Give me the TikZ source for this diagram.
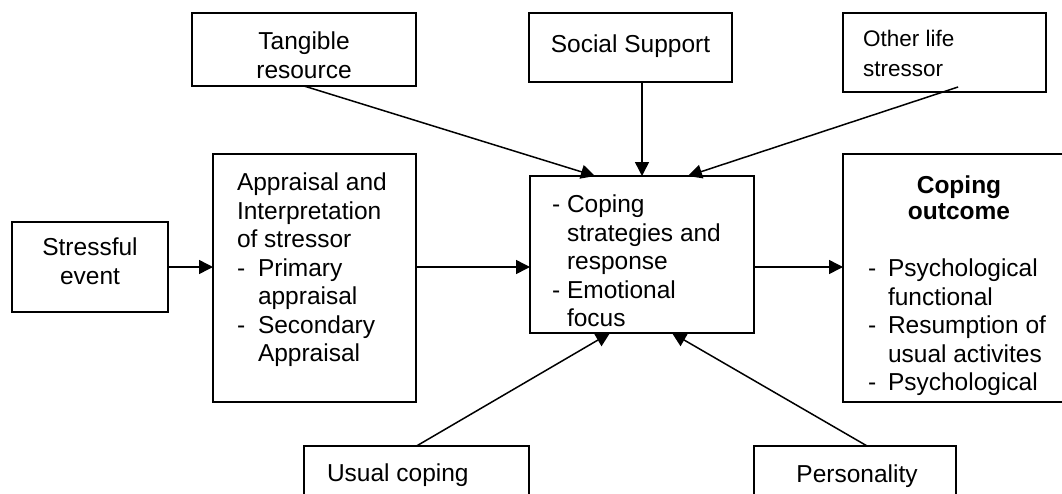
\documentclass[tikz,border=0pt]{standalone}
\usepackage{fontspec}
\setmainfont{Liberation Sans}
\usetikzlibrary{arrows.meta,calc}
\begin{document}
\begin{tikzpicture}[x=1pt,y=-1pt,
  box/.style={draw, line width=1.6pt, inner sep=0pt, outer sep=0pt},
  txt/.style={inner sep=0pt, outer sep=0pt, font=\fontsize{24.5}{28.5}\selectfont, align=left},
  ctxt/.style={txt, align=center},
  arr/.style={line width=1.5pt, -{Triangle[length=14pt,width=14pt]}}
]
\useasboundingbox (0,0) rectangle (1062,493);
\clip (0,0) rectangle (1062,493);

% boxes
\node[box, minimum width=224pt, minimum height=73pt] (tan) at (304,49.5) {};
\node[box, minimum width=203pt, minimum height=69pt] (soc) at (630.5,47.5) {};
\node[box, minimum width=203pt, minimum height=79pt] (oth) at (944.5,52.5) {};
\node[box, minimum width=156pt, minimum height=90pt] (str) at (90,267) {};
\node[box, minimum width=203pt, minimum height=248pt] (app) at (314.5,278) {};
\node[box, minimum width=224pt, minimum height=157pt] (cen) at (642,254.5) {};
\node[box, minimum width=232pt, minimum height=248pt] (out) at (959,278) {};
\node[box, minimum width=225pt, minimum height=74pt] (usu) at (416.5,483) {};
\node[box, minimum width=202pt, minimum height=74pt] (per) at (855,483) {};

% texts
\node[ctxt, anchor=north] (tant) at (304,30) {\strut Tangible\\resource};
\node[txt, anchor=base] (soct) at (630.5,52.7) {Social Support};
\node[txt, font=\fontsize{22.5}{30}\selectfont, anchor=north west] (otht) at (863,25.7) {\strut Other life\\stressor};
\node[ctxt, anchor=north] (strt) at (90,236) {\strut Stressful\\event};
\node[txt, anchor=north west] (appt) at (237,171) {\strut Appraisal and\\Interpretation\\of stressor\\\makebox[21pt][l]{-}Primary\\\hspace*{21pt}appraisal\\\makebox[21pt][l]{-}Secondary\\\hspace*{21pt}Appraisal};
\node[txt, anchor=north west] (cent) at (552,192.7) {\strut\makebox[15pt][l]{-}Coping\\\hspace*{15pt}strategies and\\\hspace*{15pt}response\\\makebox[15pt][l]{-}Emotional\\\hspace*{15pt}focus};
\node[ctxt, font=\fontsize{24.5}{26}\selectfont\bfseries, anchor=north] (outh) at (959,174.8) {\strut Coping\\outcome};
\node[txt, anchor=north west] (outt) at (868,256.7) {\strut\makebox[20pt][l]{-}Psychological\\\hspace*{20pt}functional\\\makebox[20pt][l]{-}Resumption of\\\hspace*{20pt}usual activites\\\makebox[20pt][l]{-}Psychological};
\node[txt, anchor=base west] (usut) at (327,481.7) {Usual coping};
\node[txt, anchor=base] (pert) at (857,482.7) {Personality};

% connectors
\coordinate (othS) at ($(oth.south west)!0.567!(oth.south east)+(0,-5)$);
\coordinate (perN) at ($(per.north west)!0.56!(per.north east)$);
\draw[arr] (tan.south) -- ($(cen.north west)!0.29!(cen.north east)$);
\draw[arr] (cen.north |- soc.south) -- (cen.north);
\draw[arr] (othS) -- ($(cen.north west)!0.705!(cen.north east)$);
\draw[arr] (str.east) -- (app.west |- str.east);
\draw[arr] (app.east |- str.east) -- (cen.west |- str.east);
\draw[arr] (cen.east |- str.east) -- (out.west |- str.east);
\draw[arr] (usu.north) -- ($(cen.south west)!0.357!(cen.south east)$);
\draw[arr] (perN) -- ($(cen.south west)!0.634!(cen.south east)$);
\end{tikzpicture}
\end{document}
